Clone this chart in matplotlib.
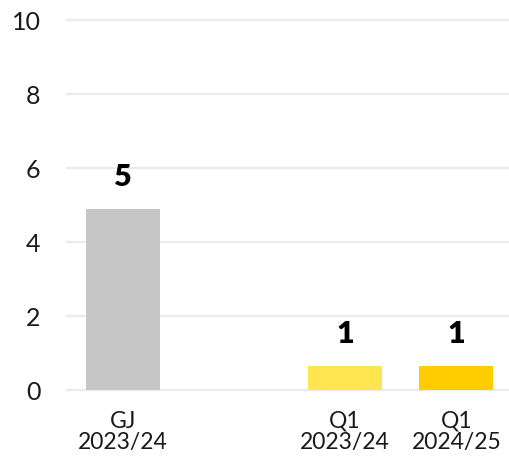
import numpy as np
import matplotlib
matplotlib.use("Agg")
import matplotlib.pyplot as plt

categories = ["GJ\n2023/24", "", "Q1\n2023/24", "Q1\n2024/25"]
values = [4.9, np.nan, 0.65, 0.65]
value_labels = ["5", "", "1", "1"]
colors = ["#c6c6c6", "#ffffff", "#ffe54f", "#ffcc00"]
y_ticks = [0, 2, 4, 6, 8, 10]

plt.rcParams['font.family'] = ['Lato', 'DejaVu Sans']

fig = plt.figure(figsize=(5.10, 4.62), dpi=100)
ax = fig.add_axes([0.1314, 0.1558, 0.8725, 0.8009])

x = np.arange(len(categories))
bars = ax.bar(x, np.nan_to_num(values), width=0.665, color=colors, zorder=3)

for b, lab in zip(bars, value_labels):
    if lab:
        ax.annotate(lab, (b.get_x() + b.get_width() / 2, b.get_height()),
                    xytext=(0, 13), textcoords="offset points",
                    ha="center", va="bottom", fontsize=22, fontweight="heavy",
                    color="#000000")

ax.set_xlim(-0.5, len(categories) - 0.5)
ax.set_ylim(0, 10)
ax.set_yticks(y_ticks)
ax.set_xticks(x)
ax.set_xticklabels(categories, linespacing=1.03)

ax.grid(axis="y", color="#ebebeb", linewidth=1.6, zorder=0)
for gl in ax.get_ygridlines():
    gl.set_clip_on(False)
for s in ax.spines.values():
    s.set_visible(False)
ax.tick_params(axis="both", length=0, colors="#1a1a1a")
ax.tick_params(axis="y", pad=19, labelsize=18)
ax.tick_params(axis="x", pad=15, labelsize=16.5)

fig.savefig("out.png", dpi=100)
